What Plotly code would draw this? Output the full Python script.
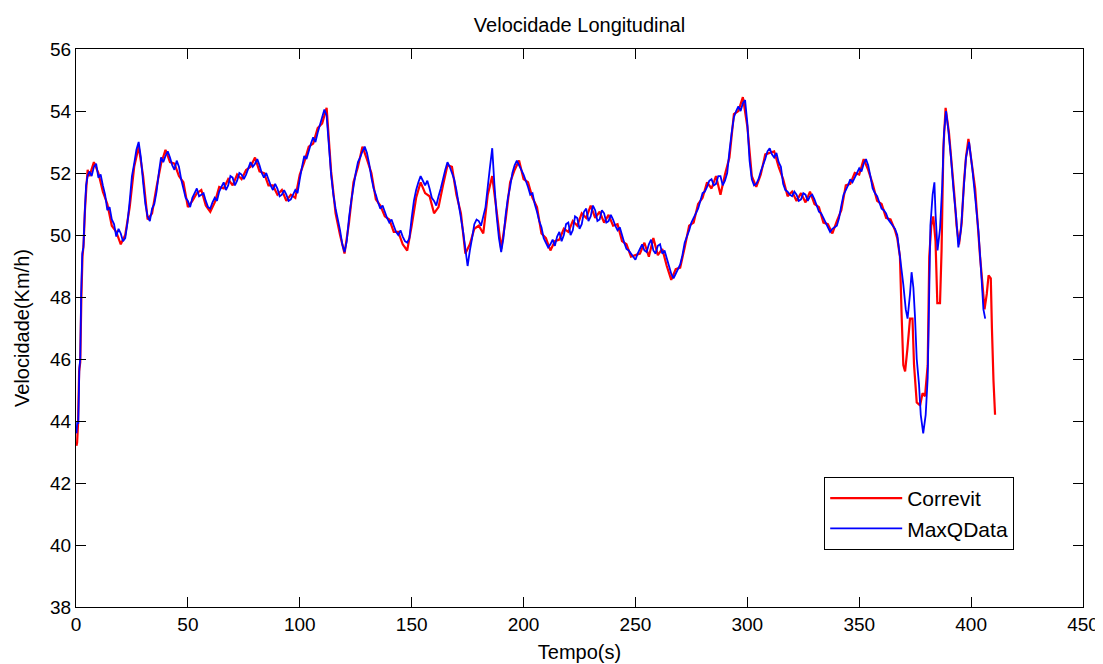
import plotly.graph_objects as go

title_text = "Velocidade Longitudinal"
x_label = "Tempo(s)"
y_label = "Velocidade(Km/h)"
series_names = ["Correvit", "MaxQData"]
x_ticks = [0, 50, 100, 150, 200, 250, 300, 350, 400, 450]
y_ticks = [38, 40, 42, 44, 46, 48, 50, 52, 54, 56]

# sampling grids for the middle part of the run
correvit_grid_t = list(range(6, 366, 2))   # 2 s steps, 6..364
maxq_grid_t = list(range(6, 366))          # 1 s steps, 6..365

# ---- Correvit (red) ----
correvit_head_t = [0.2, 0.5, 0.9, 1.4, 1.9, 2.4, 2.9, 3.4, 4.0, 4.6, 5.2]
correvit_head_v = [43.2, 43.3, 43.9, 45.6, 45.9, 48.0, 49.3, 49.7, 50.8, 51.5, 52.1]
correvit_main_v = [
    51.9, 52.35, 52.0, 51.4, 51.0, 50.3, 50.1, 49.7, 50.0, 50.9,
    52.2, 52.85, 51.9, 50.5, 50.7, 51.55, 52.3, 52.75, 52.35, 52.3,
    51.9, 51.7, 50.9, 51.1, 51.35, 51.45, 50.95, 50.75, 51.05, 51.55,
    51.5, 51.8, 51.6, 51.95, 51.8, 52.1, 52.2, 52.5, 52.05, 52.0,
    51.6, 51.6, 51.3, 51.45, 51.1, 51.3, 51.2, 51.95, 52.35, 52.85,
    52.95, 53.45, 53.6, 54.1, 52.05, 50.7, 50.0, 49.4, 50.4, 51.7,
    52.2, 52.85, 52.45, 52.0, 51.15, 50.95, 50.6, 50.5, 50.1, 50.1,
    49.7, 49.5, 50.3, 51.2, 51.7, 51.35, 51.25, 50.7, 50.9, 51.6,
    52.25, 52.2, 51.3, 50.7, 49.4, 49.7, 50.2, 50.3, 50.05, 51.3,
    51.9, 50.75, 49.55, 50.5, 51.7, 52.1, 52.4, 51.8, 51.7, 51.2,
    50.9, 50.05, 49.9, 49.5, 49.8, 49.85, 50.2, 50.1, 50.45, 50.3,
    50.7, 50.55, 50.95, 50.55, 50.75, 50.4, 50.65, 50.3, 50.35, 49.8,
    49.7, 49.3, 49.35, 49.4, 49.75, 49.3, 49.9, 49.35, 49.55, 49.0,
    48.55, 48.9, 48.95, 49.6, 50.3, 50.4, 51.0, 51.2, 51.7, 51.5,
    51.9, 51.3, 51.95, 52.5, 53.9, 54.0, 54.45, 53.5, 51.9, 51.55,
    51.95, 52.6, 52.65, 52.7, 52.2, 51.8, 51.25, 51.4, 51.1, 51.35,
    51.05, 51.4, 51.0, 50.9, 50.4, 50.35, 50.05, 50.45, 50.8, 51.6,
    51.65, 52.0, 51.95, 52.45, 52.1, 51.65, 51.1, 51.0, 50.55, 50.5,
]
correvit_tail_t = [366, 367, 368.2, 369.0, 369.7, 370.5, 371.5, 372.7, 373.8, 374.5,
                   375.7, 377.2, 378.3, 379.4, 380.6, 381.3, 382.2, 383.1, 384.1, 384.9,
                   386.1, 386.8, 387.6, 388.6, 390.1, 391.3, 392.5, 393.5, 394.6, 395.8,
                   396.8, 397.7, 398.8, 400.3, 401.8, 403.0, 404.0, 405.1, 406.0, 407.0,
                   407.8, 408.8, 409.3, 410.0, 410.7]
correvit_tail_v = [50.15, 49.9, 49.3, 47.3, 45.8, 45.6, 46.3, 47.3, 47.3, 45.8,
                   44.6, 44.5, 44.9, 44.8, 45.8, 49.3, 50.3, 50.6, 49.8, 47.8,
                   47.8, 49.5, 52.8, 54.1, 53.3, 52.3, 51.3, 50.3, 49.7, 50.4,
                   51.7, 52.5, 53.1, 52.3, 51.5, 50.3, 49.3, 48.4, 47.6, 48.1,
                   48.7, 48.6, 47.0, 45.3, 44.2]

# ---- MaxQData (blue) ----
maxq_head_t = [0.2, 0.6, 1.0, 1.5, 1.9, 2.3, 2.8, 3.3, 3.9, 4.5, 5.2]
maxq_head_v = [43.6, 44.0, 43.9, 45.7, 46.0, 48.1, 49.4, 49.6, 50.7, 51.6, 51.9]
maxq_main_v = [
    52.05, 51.9, 52.2, 52.3, 51.85, 51.95, 51.6, 51.3, 50.8, 50.9,
    50.5, 50.35, 49.95, 50.2, 50.05, 49.8, 49.9, 50.4, 51.1, 51.9,
    52.3, 52.75, 53.0, 52.5, 51.7, 51.0, 50.6, 50.45, 50.85, 51.0,
    51.4, 52.0, 52.5, 52.35, 52.55, 52.7, 52.5, 52.25, 52.1, 52.4,
    52.2, 51.8, 51.5, 51.2, 51.1, 50.9, 51.2, 51.35, 51.5, 51.25,
    51.3, 51.35, 51.1, 50.9, 50.85, 51.05, 51.2, 51.1, 51.4, 51.55,
    51.7, 51.45, 51.6, 51.9, 51.85, 51.6, 51.75, 52.0, 51.95, 51.8,
    51.95, 52.15, 52.35, 52.2, 52.3, 52.45, 52.25, 52.0, 51.85, 52.0,
    51.8, 51.6, 51.45, 51.65, 51.5, 51.25, 51.3, 51.45, 51.3, 51.1,
    51.15, 51.3, 51.45, 51.35, 51.8, 52.2, 52.55, 52.45, 52.7, 52.95,
    53.15, 53.0, 53.3, 53.55, 53.8, 54.05, 53.85, 52.9, 51.95, 51.3,
    50.85, 50.5, 50.15, 49.7, 49.45, 49.8, 50.55, 51.1, 51.55, 52.0,
    52.35, 52.5, 52.7, 52.85, 52.65, 52.3, 51.85, 51.5, 51.3, 51.05,
    50.85, 50.95, 50.75, 50.55, 50.4, 50.5, 50.3, 50.1, 50.0, 50.15,
    49.95, 49.8, 49.75, 49.9, 50.55, 51.1, 51.45, 51.7, 51.9, 51.75,
    51.6, 51.75, 51.5, 51.2, 51.1, 50.95, 51.25, 51.5, 51.8, 52.1,
    52.35, 52.2, 52.0, 51.8, 51.45, 51.0, 50.55, 50.1, 49.55, 49.0,
    49.5, 49.9, 50.35, 50.5, 50.45, 50.3, 50.6, 50.9, 51.55, 52.2,
    52.8, 51.6, 50.6, 49.9, 49.45, 49.9, 50.65, 51.2, 51.55, 52.0,
    52.25, 52.4, 52.25, 52.1, 51.95, 51.75, 51.55, 51.3, 51.35, 51.0,
    50.75, 50.45, 50.25, 49.9, 49.75, 49.6, 49.7, 49.85, 49.65, 49.95,
    50.1, 49.8, 50.0, 50.35, 50.4, 50.0, 50.15, 50.6, 50.55, 50.2,
    50.35, 50.75, 50.85, 50.45, 50.6, 50.95, 50.8, 50.45, 50.5, 50.8,
    50.7, 50.4, 50.45, 50.65, 50.5, 50.3, 50.15, 50.25, 50.0, 49.75,
    49.55, 49.5, 49.4, 49.3, 49.2, 49.4, 49.55, 49.7, 49.5, 49.45,
    49.7, 49.85, 49.5, 49.4, 49.65, 49.7, 49.4, 49.5, 49.25, 49.0,
    48.75, 48.6, 48.75, 48.9, 49.05, 49.35, 49.75, 49.95, 50.15, 50.4,
    50.55, 50.7, 50.85, 51.1, 51.35, 51.4, 51.55, 51.75, 51.8, 51.6,
    51.65, 51.9, 51.9, 51.6, 51.75, 52.0, 52.7, 53.3, 53.8, 54.0,
    54.15, 54.0, 54.25, 54.35, 53.6, 52.4, 51.8, 51.6, 51.65, 51.8,
    52.05, 52.25, 52.45, 52.7, 52.8, 52.6, 52.5, 52.65, 52.35, 52.2,
    51.65, 51.45, 51.4, 51.3, 51.25, 51.4, 51.3, 51.1, 51.15, 51.35,
    51.3, 51.1, 51.25, 51.3, 51.15, 50.95, 50.75, 50.7, 50.55, 50.4,
    50.25, 50.1, 50.2, 50.25, 50.3, 50.55, 50.95, 51.3, 51.45, 51.6,
    51.8, 51.7, 51.85, 52.0, 52.15, 52.05, 52.3, 52.45, 52.25, 51.9,
    51.5, 51.35, 51.25, 51.05, 50.85, 50.8, 50.7, 50.5, 50.4, 50.3,
]
maxq_tail_t = [366, 367, 368.2, 369.7, 370.8, 371.6, 372.7, 373.4, 374.2, 374.9,
               375.7, 376.7, 377.5, 378.6, 379.7, 380.6, 381.1, 381.8, 382.8, 383.6,
               384.1, 385.0, 386.1, 387.1, 387.9, 388.8, 389.8, 391.0, 392.2, 393.3,
               394.3, 395.5, 396.7, 397.7, 399.1, 400.6, 402.1, 403.3, 404.5, 405.5,
               406.3]
maxq_tail_v = [50.2, 50.0, 49.3, 48.4, 47.6, 47.3, 48.1, 48.8, 48.3, 47.4,
               46.0, 45.2, 44.2, 43.6, 44.2, 45.4, 47.4, 50.3, 51.3, 51.7,
               50.7, 49.5, 50.2, 51.6, 53.3, 54.0, 53.4, 52.5, 51.4, 50.6,
               49.6, 50.2, 51.5, 52.5, 53.0, 52.1, 51.0, 50.1, 48.8, 47.6,
               47.3]

assert len(correvit_main_v) == len(correvit_grid_t)
assert len(maxq_main_v) == len(maxq_grid_t)

correvit_t = correvit_head_t + correvit_grid_t + correvit_tail_t
correvit_v = correvit_head_v + correvit_main_v + correvit_tail_v
maxq_t = maxq_head_t + maxq_grid_t + maxq_tail_t
maxq_v = maxq_head_v + maxq_main_v + maxq_tail_v

FONT = "Liberation Sans, Arial, sans-serif"

fig = go.Figure()
fig.add_trace(go.Scatter(x=correvit_t, y=correvit_v, mode="lines", name=series_names[0],
                         line=dict(color="#ff0000", width=2.2, simplify=False)))
fig.add_trace(go.Scatter(x=maxq_t, y=maxq_v, mode="lines", name=series_names[1],
                         line=dict(color="#0000ff", width=1.8, simplify=False)))

axis_common = dict(
    showline=True, linecolor="black", linewidth=1, mirror="allticks",
    ticks="inside", ticklen=10, tickcolor="black", tickwidth=1,
    showgrid=False, zeroline=False, automargin=False,
    tickfont=dict(family=FONT, size=19, color="black"),
)

# the page body adds an 8 px offset, so the figure is 8 px smaller on each side
FIG_W, FIG_H = 1095, 656

fig.update_layout(
    width=FIG_W, height=FIG_H,
    margin=dict(l=68, r=20, t=41, b=57, autoexpand=False),
    paper_bgcolor="white", plot_bgcolor="white",
    title=dict(text=title_text, x=0.5, xref="paper", xanchor="center",
               y=1 - 17 / FIG_H, yref="container", yanchor="middle", automargin=False,
               font=dict(family=FONT, size=20, color="black")),
    xaxis=dict(range=[0, 450], tickvals=x_ticks, ticktext=[str(v) for v in x_ticks],
               title=dict(text=x_label, standoff=11, font=dict(family=FONT, size=20, color="black")),
               **axis_common),
    yaxis=dict(range=[38, 56], tickvals=y_ticks, ticktext=[str(v) for v in y_ticks],
               title=dict(text=y_label, standoff=15, font=dict(family=FONT, size=20, color="black")),
               **axis_common),
    legend=dict(x=0.743, y=0.233, xanchor="left", yanchor="top",
                bgcolor="white", bordercolor="black", borderwidth=1,
                font=dict(family=FONT, size=21, color="black"),
                itemwidth=72, traceorder="normal"),
    showlegend=True,
)

fig.write_html("out.html")
